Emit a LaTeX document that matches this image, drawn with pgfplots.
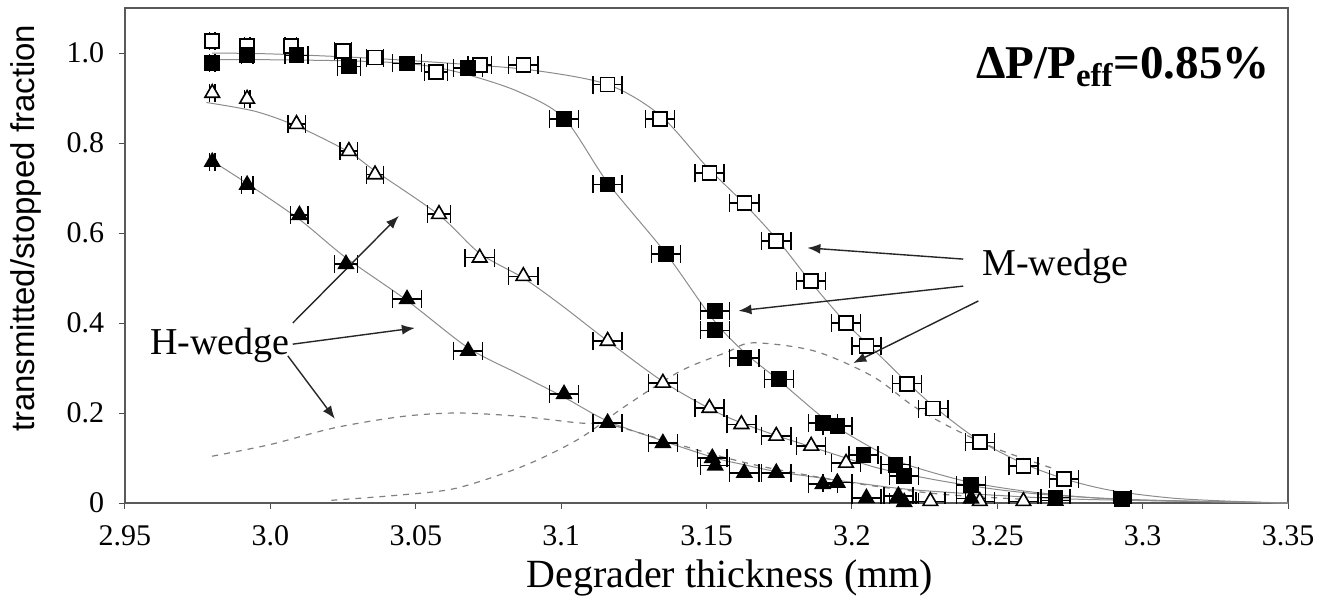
\documentclass[border=0pt]{standalone}
\usepackage{fontspec}
\setmainfont{Liberation Serif}
\setsansfont{Liberation Sans}
\usepackage{pgfplots}
\pgfplotsset{compat=1.18}
\usepackage{pgfplotstable}
\usetikzlibrary{arrows.meta}

\pgfplotstableread{
x y ex
2.980 1.027 0.001
2.992 1.015 0.001
3.007 1.015 0.002
3.025 1.004 0.003
3.036 0.990 0.003
3.057 0.958 0.004
3.072 0.973 0.004
3.087 0.973 0.005
3.116 0.930 0.005
3.134 0.853 0.005
3.151 0.733 0.005
3.163 0.667 0.005
3.174 0.582 0.005
3.186 0.493 0.005
3.198 0.400 0.005
3.205 0.349 0.005
3.219 0.265 0.005
3.228 0.210 0.005
3.244 0.135 0.005
3.259 0.082 0.005
3.273 0.053 0.005
}\opensq

\pgfplotstableread{
x y ex
2.980 0.978 0.001
2.992 0.995 0.002
3.009 0.995 0.004
3.027 0.970 0.004
3.047 0.977 0.005
3.068 0.967 0.005
3.101 0.853 0.005
3.116 0.708 0.005
3.136 0.553 0.005
3.153 0.427 0.005
3.153 0.384 0.005
3.163 0.322 0.005
3.175 0.275 0.005
3.190 0.178 0.005
3.195 0.171 0.005
3.204 0.107 0.005
3.215 0.085 0.005
3.218 0.060 0.005
3.241 0.040 0.005
3.270 0.012 0.005
3.293 0.009 0.003
}\fillsq

\pgfplotstableread{
x y ex
2.980 0.911 0.001
2.992 0.898 0.001
3.009 0.842 0.003
3.027 0.782 0.003
3.036 0.730 0.003
3.058 0.642 0.004
3.072 0.545 0.005
3.087 0.504 0.005
3.116 0.360 0.005
3.135 0.267 0.005
3.151 0.211 0.005
3.162 0.175 0.005
3.174 0.149 0.005
3.186 0.127 0.005
3.198 0.089 0.005
3.227 0.004 0.005
3.244 0.004 0.005
3.259 0.004 0.005
}\opentri

\pgfplotstableread{
x y ex
2.980 0.758 0.001
2.992 0.707 0.002
3.010 0.640 0.003
3.026 0.531 0.004
3.047 0.453 0.005
3.068 0.338 0.005
3.101 0.242 0.005
3.116 0.178 0.005
3.135 0.133 0.005
3.152 0.100 0.005
3.153 0.083 0.005
3.163 0.067 0.005
3.174 0.067 0.005
3.190 0.042 0.005
3.195 0.045 0.005
3.205 0.011 0.005
3.216 0.016 0.005
3.218 0.002 0.005
3.241 0.010 0.005
3.270 0.005 0.005
}\filltri

\begin{document}
\begin{tikzpicture}
\begin{axis}[name=ax, scale only axis, width=581.5pt, height=247.5pt,
  xmin=2.95, xmax=3.35, ymin=0, ymax=1.1,
  xtick={2.95,3,3.05,3.1,3.15,3.2,3.25,3.3,3.35},
  xticklabels={2.95,3.0,3.05,3.1,3.15,3.2,3.25,3.3,3.35},
  ytick={0,0.2,0.4,0.6,0.8,1.0},
  yticklabels={0,0.2,0.4,0.6,0.8,1.0},
  xtick pos=left, ytick pos=left,
  /pgf/number format/assume math mode=true,
  tick align=outside, major tick length=3pt,
  tick style={black!70, line width=0.5pt},
  axis line style={black!65, line width=0.7pt},
  ticklabel style={font=\rmfamily\fontsize{15}{18}\selectfont, inner sep=1pt},
  yticklabel style={xshift=-6.2pt},
  xticklabel style={yshift=-7pt, text depth=0pt},
  xlabel={Degrader thickness (mm)},
  xlabel style={at={(axis description cs:0.52,-0.1697)}, anchor=base, inner sep=0pt, font=\rmfamily\fontsize{20}{24}\selectfont},
  ylabel={transmitted/stopped fraction},
  ylabel style={at={(axis description cs:-0.0851,0.555)}, anchor=center, font=\sffamily\fontsize{16.5}{19}\selectfont},
]
% fit curves
\addplot[black!45, line width=0.5pt, smooth] coordinates {(2.98,1.0) (3.0,0.998) (3.03,0.99) (3.06,0.978) (3.09,0.962) (3.116,0.93) (3.134,0.862) (3.15,0.748) (3.163,0.665) (3.175,0.58) (3.186,0.49) (3.198,0.40) (3.21,0.325) (3.22,0.262) (3.23,0.205) (3.244,0.138) (3.26,0.085) (3.275,0.05) (3.29,0.027) (3.31,0.011) (3.33,0.004) (3.35,0.0)};
\addplot[black!45, line width=0.5pt, smooth] coordinates {(2.98,0.985) (3.0,0.985) (3.03,0.982) (3.05,0.975) (3.066,0.955) (3.085,0.915) (3.101,0.855) (3.116,0.712) (3.136,0.555) (3.152,0.41) (3.163,0.335) (3.175,0.272) (3.19,0.19) (3.2,0.148) (3.21,0.112) (3.22,0.083) (3.24,0.047) (3.26,0.026) (3.28,0.013) (3.3,0.006) (3.35,0)};
\addplot[black!45, line width=0.5pt, smooth] coordinates {(2.978,0.89) (2.995,0.87) (3.01,0.835) (3.027,0.78) (3.036,0.738) (3.058,0.64) (3.072,0.555) (3.087,0.5) (3.1,0.44) (3.116,0.36) (3.135,0.27) (3.151,0.21) (3.162,0.178) (3.174,0.15) (3.186,0.125) (3.198,0.1) (3.21,0.076) (3.23,0.05) (3.25,0.03) (3.27,0.017) (3.3,0.007) (3.35,0)};
\addplot[black!45, line width=0.5pt, smooth] coordinates {(2.98,0.76) (2.992,0.71) (3.01,0.63) (3.026,0.545) (3.047,0.45) (3.068,0.345) (3.085,0.288) (3.101,0.235) (3.116,0.182) (3.135,0.138) (3.153,0.1) (3.163,0.085) (3.174,0.07) (3.19,0.055) (3.2,0.046) (3.22,0.03) (3.25,0.017) (3.28,0.008) (3.35,0)};
% dashed stopped fractions
\addplot[black!50, line width=0.6pt, dash pattern=on 3pt off 3pt, smooth] coordinates {(2.98,0.104) (3.0,0.13) (3.022,0.167) (3.045,0.192) (3.064,0.2) (3.085,0.193) (3.106,0.178) (3.116,0.175) (3.13,0.15) (3.15,0.112) (3.17,0.08) (3.2,0.045) (3.23,0.02) (3.26,0.008)};
\addplot[black!50, line width=0.6pt, dash pattern=on 3pt off 3pt, smooth] coordinates {(3.021,0.006) (3.045,0.018) (3.064,0.033) (3.087,0.082) (3.106,0.142) (3.122,0.215) (3.141,0.293) (3.157,0.335) (3.166,0.356) (3.187,0.338) (3.207,0.282) (3.221,0.216) (3.234,0.168) (3.25,0.12) (3.27,0.075)};
% data
\pgfplotsset{ebar/.style={error bars/.cd, x dir=both, x explicit, error mark=|,
  error bar style={black, line width=0.7pt},
  error mark options={black, mark size=4.5pt, line width=0.7pt}}}
\addplot[only marks, mark=square*, mark size=3.5pt, mark options={fill=white, draw=black, line width=0.8pt}, ebar]
  table[x=x, y=y, x error=ex]{\opensq};
\addplot[only marks, mark=square*, mark size=3.5pt, mark options={fill=black, draw=black, line width=0.8pt}, ebar]
  table[x=x, y=y, x error=ex]{\fillsq};
\addplot[only marks, mark=triangle*, mark size=4.2pt, mark options={fill=white, draw=black, line width=0.8pt}, ebar]
  table[x=x, y=y, x error=ex]{\opentri};
\addplot[only marks, mark=triangle*, mark size=4.2pt, mark options={fill=black, draw=black, line width=0.8pt}, ebar]
  table[x=x, y=y, x error=ex]{\filltri};
% annotations
\node[anchor=base west, font=\fontsize{19}{22}\selectfont, inner sep=0pt] at (axis cs:2.9586,0.331) {H-wedge};
\node[anchor=base west, font=\fontsize{19}{22}\selectfont, inner sep=0pt] at (axis cs:3.2448,0.505) {M-wedge};
\node[anchor=base east, font=\fontsize{23.5}{28}\selectfont\bfseries, inner sep=0pt] at (axis description cs:0.9845,0.857) {ΔP/P\textsubscript{eff}=0.85\%};
\draw[-{Latex[length=6.5pt,width=5pt]}, line width=0.7pt, black!85] (axis cs:3.0077,0.40) -- (axis cs:3.0442,0.638);
\draw[-{Latex[length=6.5pt,width=5pt]}, line width=0.7pt, black!85] (axis cs:3.0077,0.353) -- (axis cs:3.0497,0.389);
\draw[-{Latex[length=6.5pt,width=5pt]}, line width=0.7pt, black!85] (axis cs:3.006,0.327) -- (axis cs:3.0222,0.187);
\draw[-{Latex[length=6.5pt,width=5pt]}, line width=0.7pt, black!85] (axis cs:3.2383,0.542) -- (axis cs:3.1847,0.567);
\draw[-{Latex[length=6.5pt,width=5pt]}, line width=0.7pt, black!85] (axis cs:3.2383,0.482) -- (axis cs:3.161,0.427);
\draw[-{Latex[length=6.5pt,width=5pt]}, line width=0.7pt, black!85] (axis cs:3.2435,0.449) -- (axis cs:3.2005,0.311);
\end{axis}
\pgfresetboundingbox
\path[use as bounding box] ([shift={(-62.5pt,-46.5pt)}]ax.south west) rectangle ([shift={(19pt,4pt)}]ax.north east);
\end{tikzpicture}
\end{document}
